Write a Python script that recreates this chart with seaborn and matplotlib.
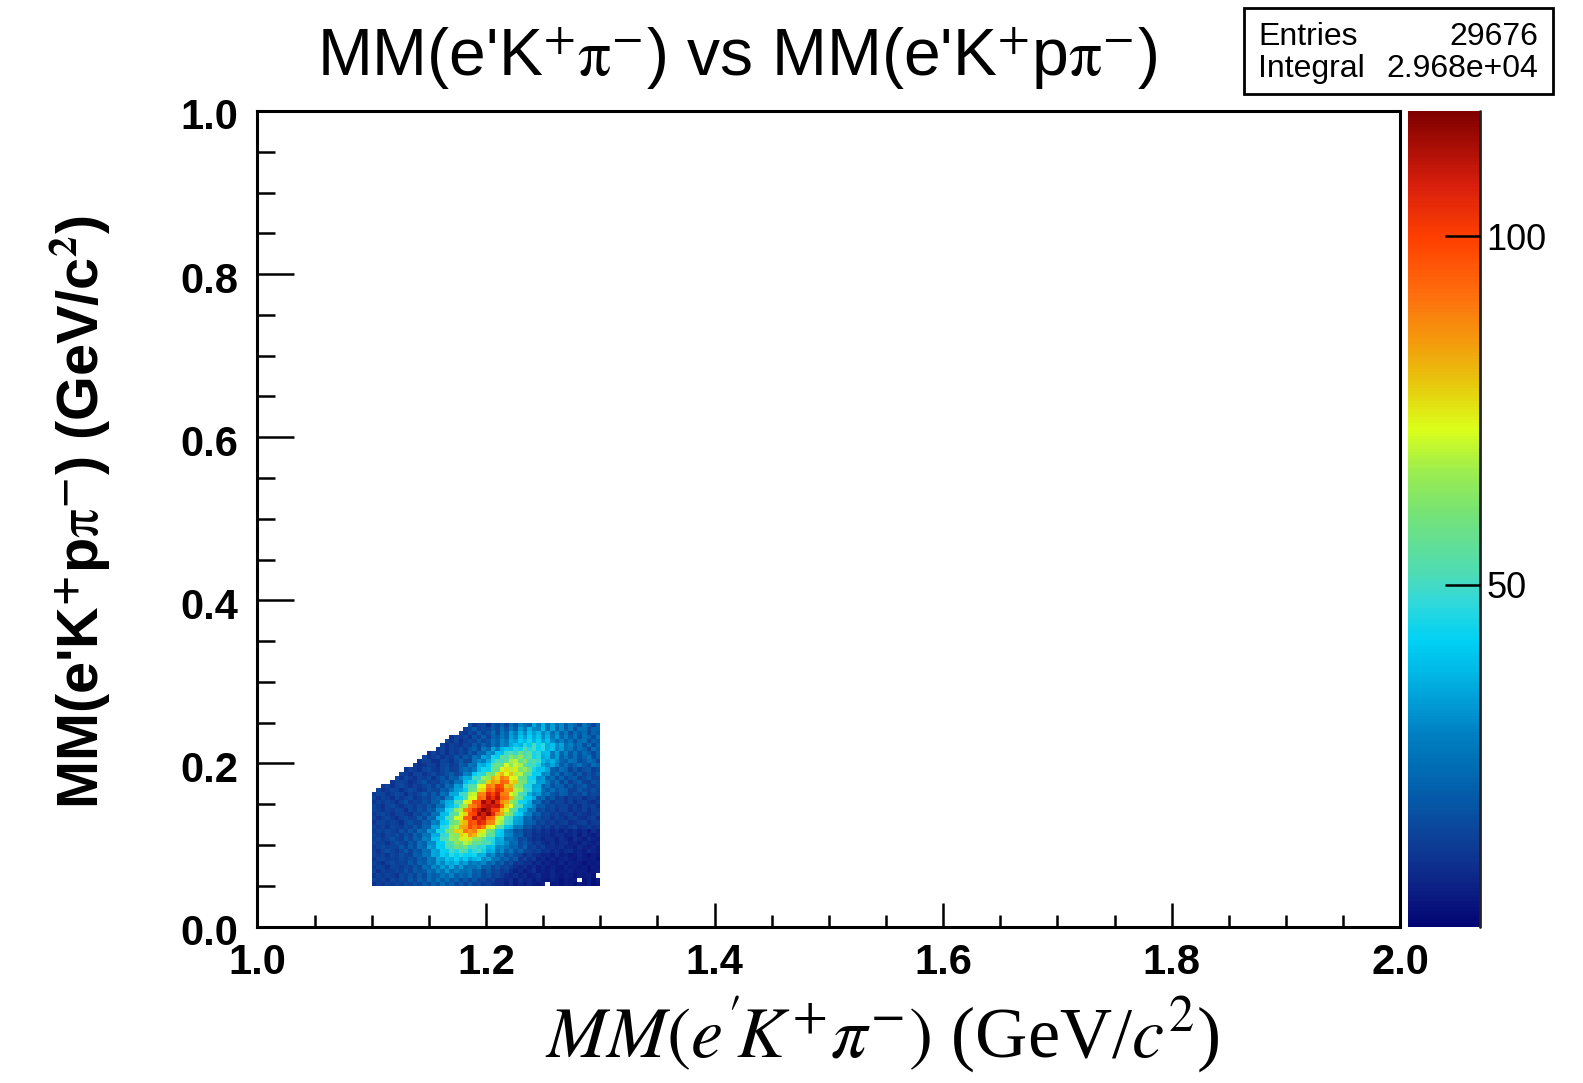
import numpy as np
import pandas as pd
import matplotlib
matplotlib.use("Agg")
import matplotlib.pyplot as plt
from matplotlib.colors import LinearSegmentedColormap
from matplotlib.ticker import MultipleLocator, FormatStrFormatter
from matplotlib.patches import Rectangle
from matplotlib.lines import Line2D
from matplotlib.transforms import ScaledTranslation
import seaborn as sns

# ---- histogram binning -------------------------------------------------
x_lo, x_hi, n_xbins = 1.10, 1.30, 50     # MM(e'K+pi-) bins, GeV/c^2
y_lo, y_hi, n_ybins = 0.05, 0.25, 40     # MM(e'K+p pi-) bins, GeV/c^2

# Bin contents, one string per y bin, top row (0.245-0.250) first.
# Each string lists the filled bins ending at x = 1.30; bins to the left of
# the listed ones are empty (removed by the kinematic cut).
count_rows = [
    "17 11 14 16 10 19 15 21 14 25 17 29 24 21 35 27 37 25 33 24 30 19 27 22 16 26 20 14 22",
    "12 15 19 13 16 14 20 15 24 17 27 21 33 26 37 30 29 38 25 34 22 30 20 27 17 25 24 16 22 21",
    "14 11 16 13 20 14 17 24 15 26 21 33 27 37 30 40 33 38 29 35 24 31 21 27 17 25 19 24 15 22 19",
    "10 14 12 15 11 17 14 20 14 22 19 27 22 34 29 39 33 42 35 40 30 37 26 33 22 29 20 26 17 25 22 16 24",
    "14 11 15 10 13 16 14 19 15 17 25 21 30 26 36 33 42 38 45 37 43 34 39 30 24 29 21 26 17 24 25 16 21 19",
    "13 10 14 12 11 15 13 19 14 21 16 25 20 30 27 35 40 37 46 41 50 43 47 36 39 30 34 24 29 21 25 17 24 16 22",
    "11 14 10 14 13 16 12 17 21 15 26 22 34 27 37 41 39 47 44 53 46 51 42 47 36 39 29 33 24 27 19 25 22 15 24 19",
    "10 14 11 14 10 14 12 16 13 19 15 22 21 31 29 40 39 49 53 48 58 51 55 44 47 37 39 27 34 22 29 19 26 17 24 20 15 22",
    "14 10 13 15 11 14 12 17 14 20 16 25 22 34 31 44 41 56 52 63 57 64 52 57 44 47 35 38 27 33 21 27 19 25 17 22 26 16 21",
    "11 14 14 10 10 15 14 11 16 20 14 15 26 30 27 35 46 52 50 55 67 69 58 63 51 54 49 38 33 37 31 22 20 26 24 16 19 25 22 15",
    "13 10 11 14 13 10 15 16 12 14 21 17 26 24 37 35 41 55 59 57 71 64 70 67 54 49 51 45 34 30 35 29 20 25 17 22 25 19 16 24 21",
    "11 14 12 10 14 16 12 11 15 17 13 14 21 25 22 27 38 44 43 58 56 71 76 69 75 62 65 57 45 39 40 34 22 19 25 21 14 20 14 17 19 13 16",
    "14 12 10 14 15 11 13 16 12 14 17 20 15 19 29 27 41 47 46 61 60 76 81 73 80 67 69 55 53 41 42 29 31 20 25 16 22 19 14 20 14 17 14 19",
    "14 11 15 12 10 14 13 16 11 15 19 14 22 20 30 36 35 50 49 66 64 82 77 90 86 72 74 58 57 44 43 31 33 21 24 16 22 15 19 20 13 16 19 14 14",
    "11 14 15 13 10 12 15 17 12 14 13 17 21 16 26 25 38 44 45 60 59 78 85 81 94 92 76 79 61 59 45 46 33 34 27 19 24 15 21 14 17 20 14 13 17 16",
    "12 14 10 14 16 13 11 14 12 15 17 13 19 15 24 21 33 31 46 53 54 72 73 90 86 101 97 80 83 64 62 47 46 34 35 22 26 17 22 21 14 19 14 17 20 14 13 16",
    "14 11 12 15 14 10 13 16 14 11 13 17 15 14 21 19 27 34 35 41 56 58 76 77 95 91 104 101 86 87 68 66 50 48 35 36 25 20 25 17 22 20 14 14 19 16 14 17 14",
    "12 15 14 11 13 16 14 10 14 12 15 19 14 20 15 25 22 35 36 49 50 68 70 89 88 106 99 108 90 89 71 67 52 49 37 30 33 22 26 19 16 21 20 14 17 14 19 13 16 15",
    "14 11 14 13 10 15 12 14 16 11 13 16 14 19 22 17 29 30 43 44 52 71 73 94 91 110 103 111 94 92 81 61 58 43 41 35 21 24 15 19 13 15 11 14 12 14 10 13 14 11",
    "11 14 12 15 13 10 14 17 12 14 13 17 14 21 20 30 36 37 52 54 73 75 96 97 114 107 115 104 87 83 64 60 44 43 36 22 25 15 17 12 15 14 11 14 10 13 14 11 10 13",
    "14 12 10 14 16 13 11 14 15 12 16 14 20 16 25 24 37 39 46 63 66 87 90 99 109 111 108 110 97 78 73 55 51 37 35 29 19 20 14 16 12 14 14 11 13 10 14 12 14 10",
    "14 13 11 14 12 15 14 10 15 13 17 14 21 19 30 31 44 47 64 68 88 92 103 109 118 112 101 99 80 74 56 52 38 36 25 26 15 17 13 15 11 14 14 10 13 11 14 10 13 12",
    "12 14 16 13 11 14 15 12 11 16 14 19 16 25 24 38 39 53 56 74 77 97 100 114 108 115 106 88 83 65 60 45 42 30 29 19 21 14 16 12 14 11 12 14 10 13 11 10 12 14",
    "14 11 13 15 12 10 14 16 13 14 20 15 24 22 36 37 51 53 71 74 93 95 111 104 109 95 92 75 70 53 49 36 34 22 24 15 17 13 15 11 14 12 10 13 14 11 10 12 14 10",
    "11 14 15 12 14 13 10 15 17 14 14 21 19 29 27 41 43 57 60 78 81 98 96 107 103 89 87 70 66 50 47 34 33 21 22 20 14 16 12 14 11 13 14 10 11 13 14 10 12 13",
    "14 12 14 11 15 13 12 16 14 19 15 22 21 34 33 46 48 64 67 83 84 99 92 98 90 75 72 56 53 40 37 26 27 17 19 13 15 11 14 10 13 11 10 12 14 10 11 13 10 11",
    "12 15 13 16 14 12 17 14 19 15 24 21 33 31 44 45 60 62 78 77 91 86 89 76 75 60 57 43 40 29 27 17 19 13 14 10 12 9 11 8 10 7 10 8 10 7 9 6 10 7",
    "14 13 11 15 14 16 13 17 14 21 17 26 25 36 35 48 49 64 63 78 75 86 81 70 69 55 56 42 40 30 29 20 21 12 14 10 11 9 10 8 10 10 7 8 10 6 9 7 6 8",
    "13 15 12 14 17 14 13 19 15 21 20 29 26 39 40 51 52 65 63 75 70 76 63 62 56 48 46 35 36 25 26 22 15 17 12 9 11 8 10 9 7 10 8 6 10 8 6 9 7 6",
    "15 13 14 11 14 17 15 13 19 16 25 21 31 30 41 42 53 52 63 60 69 65 56 57 51 52 45 34 35 30 22 24 16 19 14 11 13 10 8 10 7 9 10 7 8 6 9 7 6 8",
    "12 14 16 13 15 14 19 14 20 16 25 22 34 31 42 41 52 50 59 55 60 49 51 47 48 38 39 29 30 27 21 22 16 21 13 14 11 13 9 10 8 10 7 8 6 9 7 6 8 6",
    "13 11 14 17 14 12 15 19 14 20 17 25 24 35 33 43 41 50 46 54 52 43 48 50 44 35 37 26 31 22 26 17 22 15 14 12 14 10 11 8 10 7 9 10 7 8 6 9 7 6",
    "14 12 14 11 15 13 17 14 14 21 19 26 25 35 33 42 38 47 42 46 43 42 44 36 37 27 31 21 25 17 21 16 14 10 13 10 9 7 8 6 9 6 7 5 6 8 6 4 6 5",
    "11 14 15 12 14 13 16 14 17 15 21 19 27 25 35 33 40 37 43 36 41 34 37 39 30 33 24 26 19 22 16 20 11 14 10 12 7 9 6 8 6 7 8 6 5 7 6 5 6 4",
    "14 12 10 14 16 13 15 14 19 15 22 20 27 25 34 30 37 34 38 30 34 26 29 27 30 22 25 17 21 14 17 11 12 9 10 7 9 6 8 6 6 8 5 7 6 6 4 6 5 6",
    "12 14 13 10 15 14 12 16 14 19 16 24 21 30 26 33 29 36 27 33 24 26 25 29 20 22 15 19 14 16 12 10 8 10 7 9 6 8 6 7 6 5 7 6 6 5 6 4 6 5",
    "14 11 14 12 13 15 13 17 14 20 17 19 26 22 30 26 33 25 29 26 24 27 20 22 15 19 14 16 12 14 10 7 9 6 8 10 6 7 6 8 5 6 6 7 5 6 6 4 5 6",
    "11 14 12 14 13 11 16 14 17 14 20 16 24 20 22 27 24 29 21 25 22 26 19 21 15 17 13 15 12 10 8 10 7 9 6 7 9 6 6 8 6 5 7 6 4 6 5 6 4 0",
    "14 12 14 11 15 13 16 14 19 15 21 17 24 20 26 21 25 19 22 16 20 15 19 14 16 12 14 10 10 8 10 6 9 7 8 6 8 6 5 7 6 4 6 5 6 0 4 6 3 5",
    "10 13 11 14 12 15 13 16 14 17 15 20 16 22 17 24 19 22 16 20 15 19 14 16 12 14 11 10 10 7 9 6 8 6 8 6 5 7 0 5 6 4 6 5 3 6 4 6 3 4",
]

# Palette range and colour-bar ticks
z_min, z_max = 1, 118
z_ticks = [50, 100]

# Statistics box
stat_names = ["Entries", "Integral"]
stat_values = ["29676", "2.968e+04"]

# ---- assemble the histogram table --------------------------------------
rows = []
for line in count_rows:
    vals = [int(v) for v in line.split()]
    assert len(vals) <= n_xbins
    rows.append([0] * (n_xbins - len(vals)) + vals)
counts = np.array(rows)[::-1]          # bottom y bin first

x_edges = np.linspace(x_lo, x_hi, n_xbins + 1)
y_edges = np.linspace(y_lo, y_hi, n_ybins + 1)
x_cent = 0.5 * (x_edges[:-1] + x_edges[1:])
y_cent = 0.5 * (y_edges[:-1] + y_edges[1:])
gx, gy = np.meshgrid(x_cent, y_cent)
df = pd.DataFrame({"mm_kpi": gx.ravel(), "mm_kppi": gy.ravel(), "n": counts.ravel()})
df = df[df["n"] > 0]

# ---- rainbow palette ---------------------------------------------------
palette_nodes = [
    (0.00, (0.00, 0.02, 0.45)),
    (0.03, (0.04, 0.09, 0.50)),
    (0.07, (0.05, 0.18, 0.55)),
    (0.11, (0.05, 0.26, 0.60)),
    (0.15, (0.02, 0.34, 0.65)),
    (0.19, (0.00, 0.42, 0.70)),
    (0.235, (0.00, 0.50, 0.76)),
    (0.27, (0.00, 0.60, 0.83)),
    (0.31, (0.00, 0.72, 0.90)),
    (0.35, (0.00, 0.82, 0.96)),
    (0.40, (0.20, 0.85, 0.85)),
    (0.43, (0.30, 0.86, 0.72)),
    (0.51, (0.47, 0.89, 0.45)),
    (0.56, (0.62, 0.93, 0.30)),
    (0.61, (0.86, 1.00, 0.10)),
    (0.67, (0.91, 0.77, 0.05)),
    (0.72, (0.96, 0.60, 0.05)),
    (0.78, (1.00, 0.42, 0.05)),
    (0.845, (1.00, 0.25, 0.00)),
    (0.91, (0.85, 0.12, 0.05)),
    (1.00, (0.50, 0.00, 0.00)),
]
cmap = LinearSegmentedColormap.from_list("rainbow_root", palette_nodes, N=256)

# ---- figure ------------------------------------------------------------
sns.set_style("ticks")
plt.rcParams["font.family"] = ["Liberation Sans", "DejaVu Sans"]
plt.rcParams["axes.linewidth"] = 2.2
for key in ["text.color", "axes.labelcolor", "xtick.color", "ytick.color",
            "axes.edgecolor"]:
    plt.rcParams[key] = "black"

W, H = 1583, 1083
ax_l, ax_r, ax_t, ax_b = 257.4, 1400.3, 111.0, 926.5
cb_l, cb_r = 1408.4, 1480.1
fig = plt.figure(figsize=(W / 100, H / 100), dpi=100)
ax = fig.add_axes([ax_l / W, 1 - ax_b / H, (ax_r - ax_l) / W, (ax_b - ax_t) / H])
cax = fig.add_axes([cb_l / W, 1 - ax_b / H, (cb_r - cb_l) / W, (ax_b - ax_t) / H])

sns.histplot(
    data=df, x="mm_kpi", y="mm_kppi", weights="n",
    bins=[x_edges, y_edges], thresh=0,
    cmap=cmap, vmin=z_min, vmax=z_max,
    cbar=True, cbar_ax=cax, cbar_kws={"ticks": z_ticks},
    ax=ax,
)

ax.set_axisbelow(False)
cax.set_axisbelow(False)
ax.set_xlim(1.0, 2.0)
ax.set_ylim(0.0, 1.0)
ax.set_xlabel("")
ax.set_ylabel("")
ax.grid(False)
for sp in ax.spines.values():
    sp.set_visible(True)
    sp.set_linewidth(2.2)
    sp.set_color("black")

ax.xaxis.set_major_locator(MultipleLocator(0.2))
ax.xaxis.set_minor_locator(MultipleLocator(0.05))
ax.yaxis.set_major_locator(MultipleLocator(0.2))
ax.yaxis.set_minor_locator(MultipleLocator(0.05))
ax.xaxis.set_major_formatter(FormatStrFormatter("%.1f"))
ax.yaxis.set_major_formatter(FormatStrFormatter("%.1f"))
ax.tick_params(which="both", direction="in", top=False, right=False,
               width=1.8, color="black")
ax.tick_params(axis="x", which="major", length=17, pad=12)
ax.tick_params(axis="x", which="minor", length=8.6)
ax.tick_params(axis="y", which="major", length=26.6, pad=14)
ax.tick_params(axis="y", which="minor", length=13)
for lab in ax.get_xticklabels() + ax.get_yticklabels():
    lab.set_fontsize(30)
    lab.set_fontweight("bold")
shift = ScaledTranslation(0, -3 / 100, fig.dpi_scale_trans)
for lab in ax.get_yticklabels():
    lab.set_transform(lab.get_transform() + shift)

# colour bar: right edge line, inward ticks
cb = ax.collections[-1].colorbar
cb.outline.set_visible(False)
cax.yaxis.set_ticks_position("right")
cax.tick_params(axis="y", which="major", direction="in", length=25, width=1.8,
                pad=4.5, labelsize=26, color="black")
cax.tick_params(axis="y", which="minor", length=0)
cax.add_line(Line2D([1, 1], [0, 1], transform=cax.transAxes, color="#222222",
                    lw=2.0, clip_on=False))

# title and axis titles
fig.text(0.4656, 1 - 76 / H,
         r"MM(e'K$^{+}\mathrm{\pi}^{-}$) vs MM(e'K$^{+}$p$\mathrm{\pi}^{-}$)",
         fontsize=47.5, ha="center", va="baseline", math_fontfamily="stix")
fig.text(0.5572, 1 - 1057 / H, r"$MM(e^{\prime}\!K^{+}\pi^{-})$ (GeV/$c^{2}$)",
         fontsize=52, family="Liberation Serif", math_fontfamily="stix",
         ha="center", va="baseline")
fig.text(80 / W, 0.527,
         r"MM(e'K$^{\mathbf{+}}$p$\mathrm{\pi}^{\mathbf{-}}$) (GeV/c$^{\mathbf{2}}$)",
         fontsize=41.5, fontweight="bold", rotation=90, ha="center", va="center",
         math_fontfamily="stix")

# statistics box
fig.add_artist(Rectangle((1244 / W, 1 - 94 / H), (1553 - 1244) / W, (94 - 8) / H,
                         transform=fig.transFigure, facecolor="white",
                         edgecolor="black", lw=2.0))
for k, base in enumerate([45, 77]):
    fig.text(1258 / W, 1 - base / H, stat_names[k], fontsize=23,
             ha="left", va="baseline")
    fig.text(1538 / W, 1 - base / H, stat_values[k], fontsize=23,
             ha="right", va="baseline")

fig.savefig("out.png", dpi=100)
